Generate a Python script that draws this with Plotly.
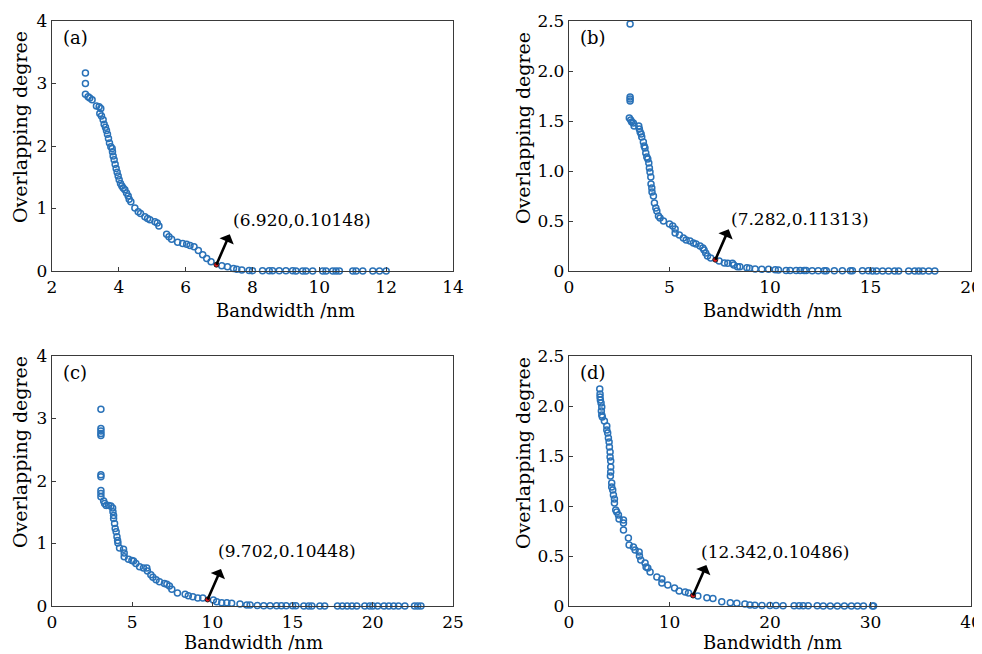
import plotly.graph_objects as go
from plotly.subplots import make_subplots

# panel (a)
a_x = [3.00, 3.00, 3.00, 3.08, 3.13, 3.20, 3.33, 3.41, 3.46, 3.43, 3.48, 3.53, 3.56, 3.60,
       3.63, 3.66, 3.69, 3.72, 3.76, 3.80, 3.81, 3.83, 3.86, 3.89, 3.92, 3.95, 3.98, 4.01,
       4.05, 4.09, 4.13, 4.18, 4.23, 4.28, 4.31, 4.36, 4.48, 4.58, 4.65, 4.78, 4.86, 4.93,
       5.08, 5.15, 5.20, 5.43, 5.50, 5.58, 5.76, 5.91, 6.03, 6.13, 6.25, 6.38, 6.51, 6.63,
       6.76, 7.08, 7.25, 7.43, 7.53, 7.68, 7.90, 8.00, 8.30, 8.50, 8.60, 8.80, 9.00, 9.20,
       9.30, 9.50, 9.60, 9.80, 10.10, 10.20, 10.40, 10.50, 10.60, 11.00, 11.10, 11.30,
       11.60, 11.80, 12.00]
a_y = [3.17, 3.00, 2.83, 2.79, 2.77, 2.74, 2.64, 2.63, 2.60, 2.52, 2.48, 2.42, 2.35, 2.30,
       2.25, 2.19, 2.12, 2.05, 1.99, 1.96, 1.91, 1.84, 1.78, 1.71, 1.64, 1.58, 1.52, 1.46,
       1.40, 1.36, 1.33, 1.30, 1.25, 1.20, 1.15, 1.11, 1.01, 0.95, 0.92, 0.87, 0.84, 0.82,
       0.79, 0.77, 0.72, 0.59, 0.55, 0.51, 0.46, 0.44, 0.43, 0.41, 0.39, 0.33, 0.26, 0.20,
       0.15, 0.085, 0.07, 0.04, 0.03, 0.015, 0.008, 0.006, 0.005, 0.004, 0.004, 0.003, 0.003,
       0.003, 0.002, 0.002, 0.002, 0.002, 0.002, 0.001, 0.001, 0.001, 0.001, 0.001, 0.001,
       0.001, 0.001, 0.001, 0.001]

# panel (b)
b_x = [3.04, 3.04, 3.04, 3.04, 3.00, 3.07, 3.12, 3.20, 3.24, 3.47, 3.50, 3.54, 3.59, 3.62,
       3.70, 3.74, 3.78, 3.82, 3.87, 3.92, 3.97, 4.00, 4.03, 4.07, 4.08, 4.12, 4.13, 4.20,
       4.25, 4.32, 4.37, 4.45, 4.53, 4.70, 5.00, 5.16, 5.28, 5.28, 5.49, 5.69, 5.83, 6.02,
       6.19, 6.32, 6.52, 6.66, 6.72, 6.80, 6.89, 7.05, 7.47, 7.73, 7.90, 8.13, 8.20, 8.38,
       8.50, 8.85, 8.98, 9.26, 9.59, 9.93, 10.26, 10.42, 10.80, 11.00, 11.30, 11.50, 11.70,
       11.80, 12.10, 12.40, 12.70, 12.80, 13.20, 13.60, 14.00, 14.10, 14.60, 14.90, 15.10,
       15.30, 15.60, 15.90, 16.20, 16.40, 16.90, 17.20, 17.40, 17.60, 17.90, 18.20]
b_y = [2.47, 1.74, 1.72, 1.70, 1.53, 1.51, 1.49, 1.48, 1.45, 1.45, 1.42, 1.39, 1.37, 1.34,
       1.29, 1.25, 1.23, 1.18, 1.14, 1.12, 1.08, 1.03, 0.99, 0.94, 0.87, 0.83, 0.79, 0.75,
       0.68, 0.63, 0.60, 0.55, 0.53, 0.50, 0.47, 0.45, 0.42, 0.38, 0.36, 0.33, 0.31, 0.30,
       0.28, 0.27, 0.25, 0.23, 0.21, 0.18, 0.15, 0.13, 0.10, 0.08, 0.077, 0.077, 0.06, 0.043,
       0.043, 0.033, 0.027, 0.02, 0.017, 0.017, 0.013, 0.01, 0.006, 0.005, 0.005, 0.004, 0.004,
       0.004, 0.003, 0.003, 0.003, 0.003, 0.002, 0.002, 0.002, 0.002, 0.002, 0.002, 0.001,
       0.001, 0.001, 0.001, 0.001, 0.001, 0.001, 0.001, 0.001, 0.001, 0.001, 0.001]

# panel (c)
c_x = [3.05, 3.05, 3.05, 3.05, 3.05, 3.05, 3.05, 3.05, 3.05, 3.05, 3.22, 3.28, 3.38, 3.53,
       3.67, 3.78, 3.80, 3.84, 3.84, 3.90, 3.94, 4.00, 4.05, 4.09, 4.11, 4.21, 4.46, 4.50,
       4.50, 4.77, 4.98, 5.08, 5.23, 5.46, 5.70, 5.91, 5.95, 6.16, 6.29, 6.49, 6.70, 7.01,
       7.16, 7.32, 7.47, 7.82, 8.30, 8.50, 8.78, 9.09, 9.40, 10.06, 10.27, 10.58, 10.90,
       11.20, 11.72, 12.14, 12.35, 12.80, 13.20, 13.60, 14.00, 14.30, 14.60, 15.00, 15.20,
       15.70, 16.00, 16.20, 16.70, 17.00, 17.80, 18.10, 18.40, 18.70, 19.00, 19.50, 19.80,
       20.00, 20.30, 20.70, 21.00, 21.30, 21.60, 22.00, 22.60, 22.80, 23.00]
c_y = [3.15, 2.84, 2.80, 2.76, 2.73, 2.10, 2.07, 1.85, 1.80, 1.75, 1.68, 1.64, 1.61, 1.61,
       1.60, 1.57, 1.51, 1.45, 1.40, 1.32, 1.24, 1.19, 1.11, 1.05, 1.01, 0.93, 0.91, 0.85,
       0.79, 0.75, 0.73, 0.72, 0.68, 0.63, 0.61, 0.61, 0.56, 0.50, 0.46, 0.42, 0.39, 0.36,
       0.35, 0.32, 0.27, 0.21, 0.19, 0.165, 0.15, 0.13, 0.13, 0.096, 0.07, 0.053, 0.053,
       0.043, 0.032, 0.016, 0.016, 0.008, 0.006, 0.005, 0.004, 0.004, 0.003, 0.003, 0.003,
       0.002, 0.002, 0.002, 0.002, 0.002, 0.001, 0.001, 0.001, 0.001, 0.001, 0.001, 0.001,
       0.001, 0.001, 0.001, 0.001, 0.001, 0.001, 0.001, 0.001, 0.001, 0.001]

# panel (d)
d_x = [3.06, 3.09, 3.09, 3.12, 3.19, 3.26, 3.22, 3.26, 3.32, 3.52, 3.76, 3.76, 3.85, 3.92,
       3.99, 4.02, 4.09, 4.09, 4.15, 4.15, 4.15, 4.12, 4.25, 4.25, 4.35, 4.42, 4.52, 4.52,
       4.65, 4.75, 4.92, 4.98, 5.42, 5.42, 5.42, 5.91, 5.98, 6.41, 6.58, 6.98, 7.01, 7.14,
       7.57, 7.67, 7.84, 8.07, 8.74, 9.24, 9.24, 9.83, 10.50, 10.96, 11.56, 11.89, 12.82,
       13.72, 14.32, 15.20, 16.05, 16.70, 17.50, 18.00, 18.50, 19.20, 20.00, 20.60, 21.30,
       22.40, 22.90, 23.30, 23.80, 24.70, 25.30, 26.00, 26.70, 27.40, 28.10, 28.70, 29.30,
       30.20, 30.30]
d_y = [2.17, 2.12, 2.09, 2.06, 2.03, 1.99, 1.95, 1.91, 1.89, 1.85, 1.80, 1.76, 1.73, 1.68,
       1.64, 1.59, 1.54, 1.49, 1.45, 1.39, 1.34, 1.30, 1.23, 1.19, 1.16, 1.11, 1.07, 1.03,
       0.96, 0.94, 0.91, 0.87, 0.86, 0.83, 0.76, 0.68, 0.61, 0.59, 0.56, 0.54, 0.50, 0.46,
       0.43, 0.39, 0.38, 0.34, 0.29, 0.27, 0.23, 0.21, 0.18, 0.15, 0.14, 0.13, 0.10, 0.083,
       0.076, 0.043, 0.033, 0.027, 0.02, 0.01, 0.007, 0.005, 0.004, 0.004, 0.003, 0.003,
       0.002, 0.002, 0.002, 0.002, 0.001, 0.001, 0.001, 0.001, 0.001, 0.001, 0.001, 0.001,
       0.001]

# marked optimum points
hl_x = [6.920, 7.282, 9.702, 12.342]
hl_y = [0.10148, 0.11313, 0.10448, 0.10486]
panel_tags = ["(a)", "(b)", "(c)", "(d)"]

xs = [a_x, b_x, c_x, d_x]
ys = [a_y, b_y, c_y, d_y]

x_ranges = [[2, 14], [0, 20], [0, 25], [0, 40]]
x_dticks = [2, 5, 5, 10]
y_ranges = [[0, 4], [0, 2.5], [0, 4], [0, 2.5]]
y_tickvals = [[0, 1, 2, 3, 4], [0, 0.5, 1, 1.5, 2, 2.5]]
y_ticktext = [["0", "1", "2", "3", "4"], ["0", "0.5", "1.0", "1.5", "2.0", "2.5"]]

# label / title offsets in pixels
label_shift = [(15, 45), (14, 41), (8, 48), (6, 44)]
ytitle_shift = [(-32, 19), (-46, 18), (-32, 29), (-46, 28)]
xtitle_shift = [(33, -39), (2, -39), (1, -36), (2, -36)]

FONT = "DejaVu Serif"
blue = "#2a72b8"
frame = "#3a3a3a"

# page body has an 8px margin, so the figure is 8px smaller each way
W, H = 974, 646

fig = make_subplots(rows=2, cols=2)
x_dom = [[44 / W, 445 / W], [561 / W, 963 / W]]
y_dom = [[1 - 263 / H, 1 - 13 / H], [1 - 598 / H, 1 - 348 / H]]

for i in range(4):
    r, c = i // 2 + 1, i % 2 + 1
    fig.add_trace(go.Scatter(x=xs[i], y=ys[i], mode="markers", cliponaxis=False,
                             marker=dict(symbol="circle-open", size=6, color=blue,
                                         line=dict(width=1.5, color=blue)),
                             showlegend=False), row=r, col=c)
    fig.add_trace(go.Scatter(x=[hl_x[i]], y=[hl_y[i]], mode="markers", cliponaxis=False,
                             marker=dict(symbol="circle", size=5, color="#e8141b",
                                         line=dict(width=1, color="#222")),
                             showlegend=False), row=r, col=c)

    ax_id = "" if i == 0 else str(i + 1)
    xref, yref = "x" + ax_id, "y" + ax_id
    # arrow, head pointing away from the point
    fig.add_annotation(x=hl_x[i], y=hl_y[i], xref=xref, yref=yref, text="",
                       showarrow=True, arrowside="start", arrowhead=2, arrowsize=1.2,
                       arrowwidth=2.6, arrowcolor="black", ax=14, ay=-32,
                       standoff=0, startstandoff=0)
    fig.add_annotation(x=hl_x[i], y=hl_y[i], xref=xref, yref=yref,
                       text="(%.3f,%.5f)" % (hl_x[i], hl_y[i]), showarrow=False,
                       xanchor="left", yanchor="middle",
                       xshift=label_shift[i][0], yshift=label_shift[i][1],
                       font=dict(family=FONT, size=17, color="black"))
    fig.add_annotation(x=0.022, y=0.935, xref=xref + " domain", yref=yref + " domain",
                       text=panel_tags[i], showarrow=False, xanchor="left", yanchor="middle",
                       font=dict(family=FONT, size=18, color="black"))
    # axis titles
    fig.add_annotation(x=0, y=0.5, xref=xref + " domain", yref=yref + " domain",
                       text="Overlapping degree", textangle=-90, showarrow=False,
                       xanchor="center", yanchor="middle",
                       xshift=ytitle_shift[i][0], yshift=ytitle_shift[i][1],
                       font=dict(family=FONT, size=19, color="black"))
    fig.add_annotation(x=0.5, y=0, xref=xref + " domain", yref=yref + " domain",
                       text="Bandwidth /nm", showarrow=False,
                       xanchor="center", yanchor="middle",
                       xshift=xtitle_shift[i][0], yshift=xtitle_shift[i][1],
                       font=dict(family=FONT, size=18, color="black"))

    fig.update_xaxes(range=x_ranges[i], dtick=x_dticks[i], tick0=0, domain=x_dom[c - 1],
                     row=r, col=c)
    fig.update_yaxes(range=y_ranges[i], tickvals=y_tickvals[c - 1], ticktext=y_ticktext[c - 1],
                     domain=y_dom[r - 1], row=r, col=c)

fig.update_xaxes(showgrid=False, zeroline=False, showline=True, mirror=True, automargin=False,
                 ticklabeloverflow="allow",
                 linecolor=frame, linewidth=1.3, ticks="inside", ticklen=4, tickwidth=1,
                 tickcolor=frame, tickfont=dict(family=FONT, size=17, color="black"))
fig.update_yaxes(showgrid=False, zeroline=False, showline=True, mirror=True, automargin=False,
                 ticklabeloverflow="allow",
                 linecolor=frame, linewidth=1.3, ticks="inside", ticklen=4, tickwidth=1,
                 tickcolor=frame, tickfont=dict(family=FONT, size=17, color="black"))

fig.update_layout(width=W, height=H,
                  margin=dict(l=0, r=0, t=0, b=0, autoexpand=False),
                  paper_bgcolor="white", plot_bgcolor="white", showlegend=False)

fig.write_html("out.html")
